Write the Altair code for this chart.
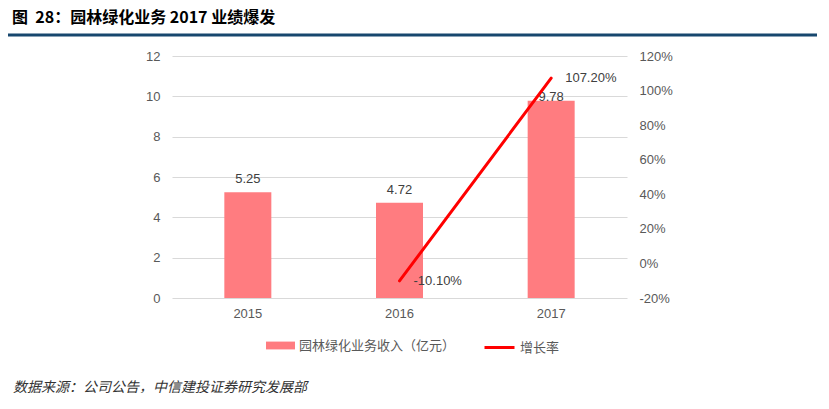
import altair as alt
import pandas as pd

years = ["2015", "2016", "2017"]
revenue = [5.25, 4.72, 9.78]
growth = [None, -0.101, 1.072]

bar_name = "园林绿化业务收入（亿元）"
line_name = "增长率"
title_text = "图\u00a0\u00a028：园林绿化业务 2017 业绩爆发"
source_text = "数据来源：公司公告，中信建投证券研究发展部"

left_ticks = [0, 2, 4, 6, 8, 10, 12]
right_ticks = [-0.2, 0, 0.2, 0.4, 0.6, 0.8, 1.0, 1.2]

df = pd.DataFrame({"year": years, "revenue": revenue, "growth": growth})

NUM_FONT = "Liberation Sans, Arial, Noto Sans CJK SC"
CJK_FONT = "Noto Sans CJK SC"
GRAY = "#595959"

x_enc = alt.X("year:N", sort=years,
              scale=alt.Scale(paddingInner=0, paddingOuter=0),
              axis=alt.Axis(title=None, labelAngle=0, ticks=False, domain=False,
                            labelPadding=9, labelFontSize=13, labelColor=GRAY,
                            labelFont=NUM_FONT))

left_axis = alt.Axis(title=None, values=left_ticks, orient="left",
                     ticks=False, domain=False, grid=True,
                     gridColor="#D9D9D9", labelPadding=12, labelOverlap=False,
                     labelFontSize=13, labelColor=GRAY, labelFont=NUM_FONT)
y_left = alt.Y("revenue:Q", scale=alt.Scale(domain=[0, 12], nice=False), axis=left_axis)

bars = alt.Chart(df).mark_bar(size=47).encode(
    x=x_enc,
    y=y_left,
    color=alt.Color("series:N",
                    scale=alt.Scale(domain=[bar_name], range=["#FF7C80"]),
                    legend=alt.Legend(title=None, orient="none", legendX=94, legendY=275,
                                      symbolType="M-1,-0.27H1V0.27H-1Z", symbolSize=841,
                                      symbolStrokeWidth=0, labelFontSize=13,
                                      labelColor=GRAY, labelFont=CJK_FONT,
                                      labelOffset=4, padding=0)),
).transform_calculate(series=f"'{bar_name}'")

bar_text_common = dict(fontSize=13, color="#404040", font=NUM_FONT, baseline="bottom")
bar_text1 = alt.Chart(df).mark_text(dy=-6, **bar_text_common).encode(
    x=x_enc, y=y_left, text=alt.Text("revenue:Q", format=".2f")
).transform_filter(alt.datum.year != "2017")
bar_text2 = alt.Chart(df).mark_text(dy=3, **bar_text_common).encode(
    x=x_enc, y=y_left, text=alt.Text("revenue:Q", format=".2f")
).transform_filter(alt.datum.year == "2017")

bar_layer = alt.layer(bars, bar_text1, bar_text2)

right_axis = alt.Axis(title=None, values=right_ticks, orient="right",
                      format=".0%", ticks=False, domain=False, grid=False,
                      labelOverlap=False, labelPadding=12, labelFontSize=13,
                      labelColor=GRAY, labelFont=NUM_FONT)
y_right = alt.Y("growth:Q", scale=alt.Scale(domain=[-0.2, 1.2], nice=False), axis=right_axis)

line = alt.Chart(df).mark_line(strokeWidth=3, strokeCap="round").encode(
    x=x_enc,
    y=y_right,
    stroke=alt.Stroke("series:N",
                      scale=alt.Scale(domain=[line_name], range=["#FF0000"]),
                      legend=alt.Legend(title=None, orient="none", legendX=311, legendY=275,
                                        symbolType="stroke", symbolSize=900,
                                        symbolStrokeWidth=3, labelFontSize=13,
                                        labelColor=GRAY, labelFont=CJK_FONT,
                                        labelOffset=4, padding=0)),
).transform_calculate(series=f"'{line_name}'")

line_text = alt.Chart(df).mark_text(dx=14, dy=0, align="left", baseline="middle",
                                    fontSize=13, color="#404040", font=NUM_FONT).encode(
    x=x_enc, y=y_right, text=alt.Text("growth:Q", format=".2%")
)

line_layer = alt.layer(line, line_text)

deco_df = pd.DataFrame({"k": [0]})
title_mark = alt.Chart(deco_df).mark_text(align="left", baseline="middle", fontSize=16,
                                          fontWeight="bold", font=CJK_FONT, color="#000000").encode(
    x=alt.value(-160), y=alt.value(-38), text=alt.value(title_text))
rule_mark = alt.Chart(deco_df).mark_rule(color="#17476E", strokeWidth=3).encode(
    x=alt.value(-170), x2=alt.value(645), y=alt.value(-21))
source_mark = alt.Chart(deco_df).mark_text(align="left", baseline="middle", fontSize=14,
                                           fontStyle="italic", font=CJK_FONT, color="#333333").encode(
    x=alt.value(-159), y=alt.value(332), text=alt.value(source_text))

chart = alt.layer(bar_layer, line_layer, title_mark, rule_mark, source_mark).resolve_scale(
    y="independent", color="independent", stroke="independent"
).properties(
    width=455, height=242,
    autosize=alt.AutoSizeParams(type="none"),
    padding={"left": 164, "top": 48, "right": 190, "bottom": 95},
).configure_view(stroke=None)

chart.save("out.html", embed_options={
    "renderer": "svg", "actions": False,
    "formatLocale": {"decimal": ".", "thousands": ",", "grouping": [3],
                     "currency": ["$", ""], "minus": "-"},
})
